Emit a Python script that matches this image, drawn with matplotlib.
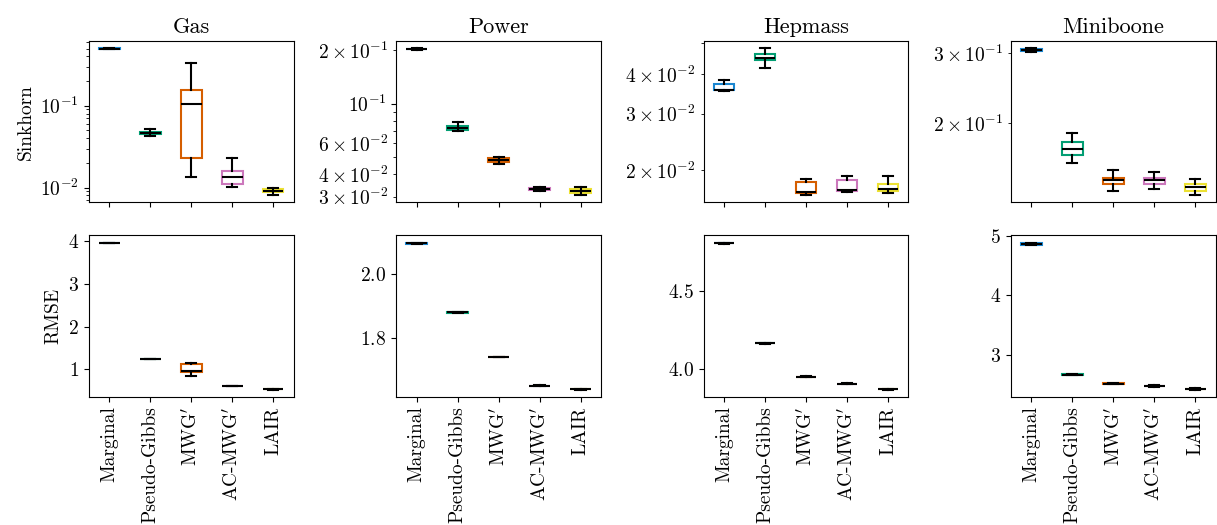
import matplotlib
matplotlib.use("Agg")
import matplotlib.pyplot as plt

plt.rcParams["font.family"] = "serif"
plt.rcParams["font.serif"] = ["cmr10", "DejaVu Serif"]
plt.rcParams["mathtext.fontset"] = "cm"
plt.rcParams["axes.formatter.use_mathtext"] = True
plt.rcParams["font.size"] = 14

methods = ["Marginal", "Pseudo-Gibbs", "MWG$'$", "AC-MWG$'$", "LAIR"]
colors = ["#1a86d0", "#029e73", "#d55e00", "#cc78bc", "#ece133"]
datasets = ["Gas", "Power", "Hepmass", "Miniboone"]

# each row: [whislo, q1, median, q3, whishi]
gas_sinkhorn = [
    [0.497, 0.499, 0.500, 0.501, 0.503],
    [0.0427, 0.0452, 0.0469, 0.0482, 0.0515],
    [0.0135, 0.0230, 0.104, 0.155, 0.329],
    [0.0101, 0.0110, 0.0134, 0.0161, 0.0232],
    [0.0081, 0.0088, 0.0091, 0.0095, 0.0100],
]
power_sinkhorn = [
    [0.2010, 0.2020, 0.2030, 0.2040, 0.2050],
    [0.0704, 0.0713, 0.0729, 0.0744, 0.0784],
    [0.0457, 0.0471, 0.0483, 0.0494, 0.0504],
    [0.0323, 0.0327, 0.0331, 0.0336, 0.0340],
    [0.0306, 0.0315, 0.0322, 0.0330, 0.0341],
]
hepmass_sinkhorn = [
    [0.0354, 0.0355, 0.0356, 0.0372, 0.0382],
    [0.0417, 0.0443, 0.0450, 0.0462, 0.0481],
    [0.0167, 0.0170, 0.0171, 0.0184, 0.0187],
    [0.0171, 0.0172, 0.0173, 0.0186, 0.0191],
    [0.0170, 0.0172, 0.0175, 0.0181, 0.0191],
]
miniboone_sinkhorn = [
    [0.303, 0.304, 0.306, 0.308, 0.309],
    [0.159, 0.166, 0.172, 0.179, 0.189],
    [0.135, 0.141, 0.144, 0.146, 0.153],
    [0.137, 0.141, 0.144, 0.146, 0.151],
    [0.132, 0.135, 0.138, 0.141, 0.145],
]
gas_rmse = [
    [3.955, 3.958, 3.960, 3.962, 3.965],
    [1.236, 1.238, 1.240, 1.242, 1.244],
    [0.85, 0.93, 0.97, 1.12, 1.16],
    [0.606, 0.608, 0.610, 0.612, 0.614],
    [0.526, 0.528, 0.530, 0.532, 0.534],
]
power_rmse = [
    [2.096, 2.097, 2.098, 2.099, 2.100],
    [1.878, 1.879, 1.880, 1.881, 1.882],
    [1.738, 1.7385, 1.739, 1.7395, 1.740],
    [1.647, 1.6475, 1.648, 1.6485, 1.649],
    [1.636, 1.6365, 1.637, 1.6375, 1.638],
]
hepmass_rmse = [
    [4.803, 4.805, 4.806, 4.807, 4.809],
    [4.162, 4.164, 4.165, 4.166, 4.168],
    [3.946, 3.948, 3.949, 3.950, 3.952],
    [3.901, 3.903, 3.904, 3.905, 3.907],
    [3.867, 3.869, 3.870, 3.871, 3.873],
]
miniboone_rmse = [
    [4.84, 4.85, 4.86, 4.87, 4.88],
    [2.65, 2.655, 2.66, 2.665, 2.67],
    [2.50, 2.505, 2.51, 2.515, 2.52],
    [2.46, 2.465, 2.47, 2.475, 2.48],
    [2.41, 2.415, 2.42, 2.425, 2.43],
]

sinkhorn = [gas_sinkhorn, power_sinkhorn, hepmass_sinkhorn, miniboone_sinkhorn]
rmse = [gas_rmse, power_rmse, hepmass_rmse, miniboone_rmse]


def draw_boxes(ax, rows):
    stats = []
    for r in rows:
        stats.append(dict(whislo=r[0], q1=r[1], med=r[2], q3=r[3], whishi=r[4], fliers=[]))
    bp = ax.bxp(stats, positions=range(1, 6), widths=0.5, patch_artist=True,
                showfliers=False,
                medianprops=dict(color="black", linewidth=1.5),
                whiskerprops=dict(color="black", linewidth=1.5),
                capprops=dict(color="black", linewidth=1.5))
    for patch, c in zip(bp["boxes"], colors):
        patch.set_facecolor("white")
        patch.set_edgecolor(c)
        patch.set_linewidth(1.5)


fig, axes = plt.subplots(2, 4, figsize=(12.17, 5.25), dpi=100, sharex=True)
fig.subplots_adjust(left=0.073, right=0.999, top=0.922, bottom=0.244, wspace=0.5, hspace=0.205)

for j, name in enumerate(datasets):
    ax = axes[0, j]
    draw_boxes(ax, sinkhorn[j])
    ax.set_yscale("log")
    ax.set_title(name, fontsize=16)
    ax2 = axes[1, j]
    draw_boxes(ax2, rmse[j])
    ax2.set_xticks(range(1, 6))
    ax2.set_xticklabels(methods, rotation=90)

axes[0, 0].set_ylabel("Sinkhorn", fontsize=14)
axes[1, 0].set_ylabel("RMSE", fontsize=14)

fig.savefig("out.png", dpi=100)
